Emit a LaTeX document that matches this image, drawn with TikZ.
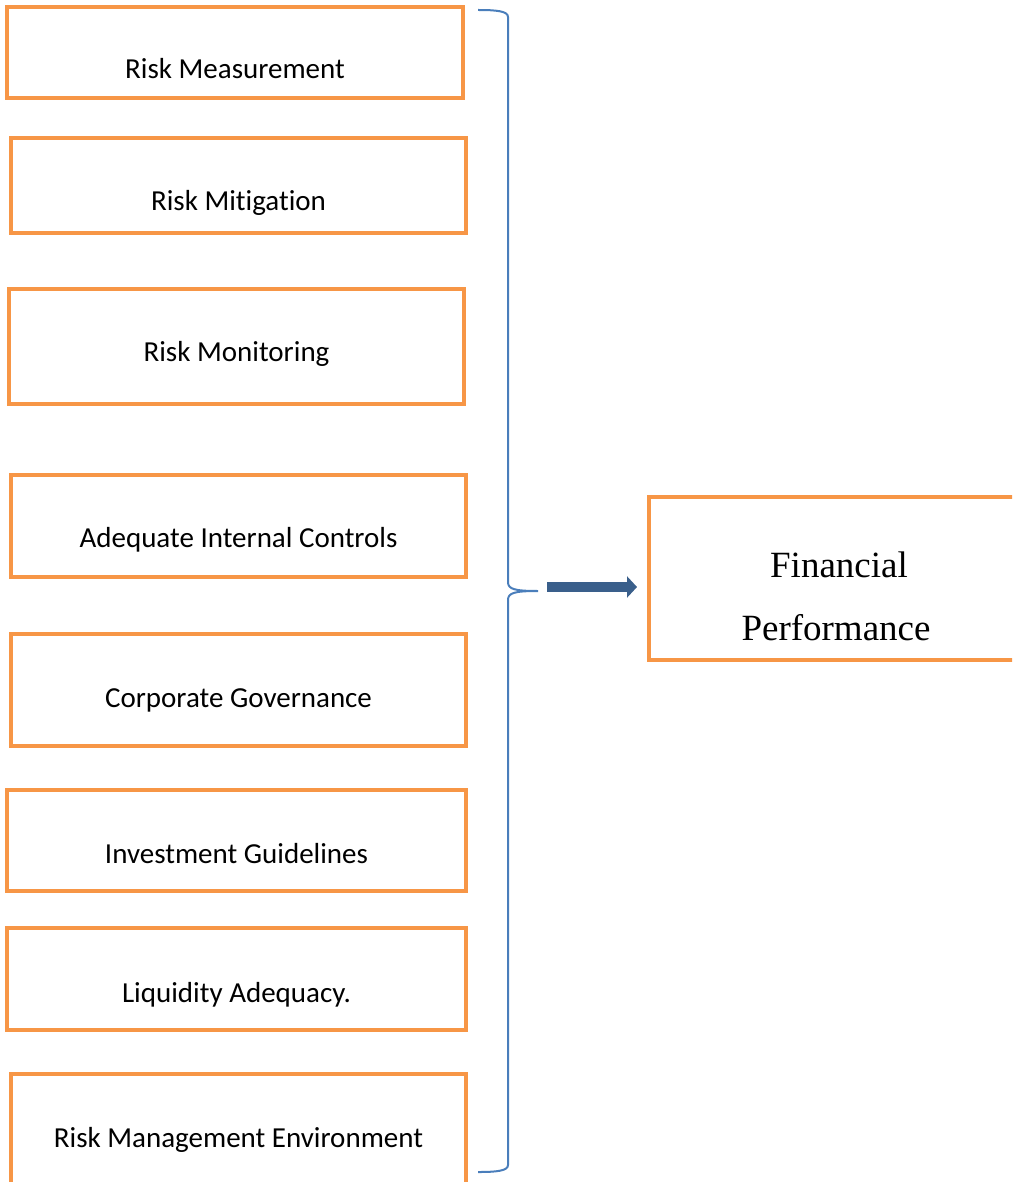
\documentclass[tikz,border=0pt]{standalone}
\usepackage{fontspec}
\setmainfont[Ligatures=NoCommon]{Carlito}
\newfontfamily\timesf{Liberation Serif}
\usetikzlibrary{arrows.meta}
\definecolor{boxorange}{HTML}{F79646}
\definecolor{braceblue}{HTML}{4A7EBB}
\definecolor{arrowblue}{HTML}{3A5F8B}
\begin{document}
\begin{tikzpicture}[x=1pt,y=-1pt,
  box/.style={draw=boxorange, line width=4.8pt, rectangle, inner sep=0pt, fill=white},
  lbl/.style={anchor=base, inner sep=0pt, font=\fontsize{29}{35}\selectfont},
  fintext/.style={anchor=base, inner sep=0pt, font=\timesf\fontsize{37}{44}\selectfont},
  bracestyle/.style={draw=braceblue, line width=2pt},
  bigarrow/.style={draw=arrowblue, line width=10pt, -{Triangle[length=10pt,width=21pt]}}]
\useasboundingbox (0,0) rectangle (1012,1182);
\clip (0,0) rectangle (1012,1182);

\node[box, minimum width=456pt, minimum height=91pt] (b1) at (235,52.5) {};
\node[lbl] (t1) at (235,79) {Risk Measurement};
\node[box, minimum width=455pt, minimum height=95pt] (b2) at (238.5,185.5) {};
\node[lbl] (t2) at (238.5,211) {Risk Mitigation};
\node[box, minimum width=455pt, minimum height=115pt] (b3) at (236.5,346.5) {};
\node[lbl] (t3) at (236.5,361) {Risk Monitoring};
\node[box, minimum width=455pt, minimum height=102pt] (b4) at (238.5,526) {};
\node[lbl] (t4) at (238.5,547) {Adequate Internal Controls};
\node[box, minimum width=455pt, minimum height=112pt] (b5) at (238.5,690) {};
\node[lbl] (t5) at (238.5,707) {Corporate Governance};
\node[box, minimum width=459pt, minimum height=101pt] (b6) at (236.5,840.5) {};
\node[lbl] (t6) at (236.5,863) {Investment Guidelines};
\node[box, minimum width=459pt, minimum height=102pt] (b7) at (236.5,979) {};
\node[lbl] (t7) at (236.5,1002) {Liquidity Adequacy.};
\node[box, minimum width=455pt, minimum height=116pt] (b8) at (238.5,1132) {};
\node[lbl] (t8) at (238.5,1147) {Risk Management Environment};

\node[box, minimum width=381pt, minimum height=163pt] (fin) at (839.5,578.5) {};
\node[fintext] (f1) at (839,577) {Financial};
\node[fintext] (f2) at (836,640) {Performance};

\coordinate (btop) at (478,10);
\coordinate (btip) at (538,591);
\coordinate (bbot) at (478,1172);
\draw[bracestyle] (btop) .. controls (496,10) and (508,11) .. (508,17)
  -- (508,582) .. controls (508,589) and (514,591) .. (btip)
  .. controls (514,591) and (508,593) .. (508,600)
  -- (508,1165) .. controls (508,1171) and (496,1172) .. (bbot);

\coordinate (astart) at (547,587);
\coordinate (aend) at (637,587);
\draw[bigarrow] (astart) -- (aend);
\end{tikzpicture}
\end{document}
